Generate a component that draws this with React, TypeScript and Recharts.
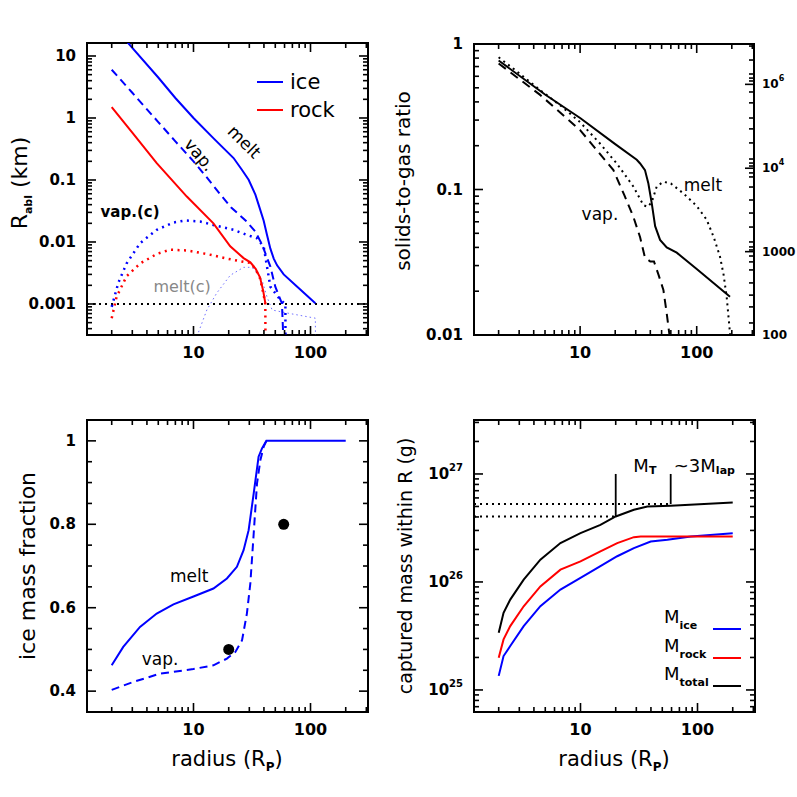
import React from 'react'
import {
  ComposedChart,
  Line,
  Scatter,
  XAxis,
  YAxis,
  ReferenceLine,
  ReferenceDot,
  ReferenceArea,
} from 'recharts'

type Pt = { x: number; y: number }

const SIZE = 797
const FONT = '"DejaVu Sans", Verdana, sans-serif'
const BLUE = '#0000ff'
const RED = '#ff0000'

// radius in planet radii, shared by all four panels
const radiusDomain = [1.23, 310]
const radiusMajor = [10, 100]

// (a) ablation radius in km
const ablDomain = [0.000316, 16.2]
const ablMajor = [0.001, 0.01, 0.1, 1, 10]
const ablFloor = 0.001
const iceMelt: Pt[] = [
  { x: 2, y: 33 }, { x: 3, y: 13.5 }, { x: 5, y: 4.5 }, { x: 7, y: 2.1 }, { x: 10, y: 1.0 },
  { x: 15, y: 0.46 }, { x: 22, y: 0.226 }, { x: 26, y: 0.145 }, { x: 29.6, y: 0.101 },
  { x: 33.8, y: 0.058 }, { x: 36, y: 0.04 }, { x: 39.8, y: 0.022 }, { x: 42.5, y: 0.013 },
  { x: 45.4, y: 0.0078 }, { x: 48.5, y: 0.0054 }, { x: 51.8, y: 0.0042 }, { x: 59, y: 0.003 },
  { x: 77, y: 0.0019 }, { x: 110, y: 0.00103 },
]
const iceVap: Pt[] = [
  { x: 2, y: 6.0 }, { x: 3, y: 2.55 }, { x: 5, y: 0.86 }, { x: 7, y: 0.42 }, { x: 10, y: 0.2 },
  { x: 13, y: 0.11 }, { x: 17, y: 0.058 }, { x: 21, y: 0.036 }, { x: 28, y: 0.022 },
  { x: 33.8, y: 0.0147 }, { x: 38.6, y: 0.009 }, { x: 45.4, y: 0.004 }, { x: 50, y: 0.0019 },
  { x: 57, y: 0.00102 }, { x: 58.5, y: 0.0003 },
]
const iceVapC: Pt[] = [
  { x: 2, y: 0.0009 }, { x: 2.28, y: 0.0022 }, { x: 2.68, y: 0.0045 }, { x: 3.5, y: 0.0096 },
  { x: 4.85, y: 0.0157 }, { x: 6.74, y: 0.0206 }, { x: 8.5, y: 0.0222 }, { x: 11.4, y: 0.0214 },
  { x: 15.8, y: 0.0182 }, { x: 22, y: 0.0157 }, { x: 28.6, y: 0.013 }, { x: 34.9, y: 0.0115 },
  { x: 39.8, y: 0.0084 }, { x: 42.5, y: 0.004 }, { x: 45.4, y: 0.0019 }, { x: 55.3, y: 0.00116 },
  { x: 61, y: 0.001 }, { x: 61.2, y: 0.0001 },
]
const iceMeltC: Pt[] = [
  { x: 10.7, y: 0.0003 }, { x: 13, y: 0.0008 }, { x: 15.8, y: 0.0015 }, { x: 20.6, y: 0.0029 },
  { x: 26.8, y: 0.0039 }, { x: 30.6, y: 0.0039 }, { x: 33, y: 0.0037 }, { x: 38.6, y: 0.0024 },
  { x: 42.5, y: 0.0013 }, { x: 47, y: 0.0008 }, { x: 67, y: 0.0007 }, { x: 110, y: 0.00059 },
  { x: 110.5, y: 0.0001 },
]
const rockMelt: Pt[] = [
  { x: 2, y: 1.5 }, { x: 3, y: 0.58 }, { x: 4.85, y: 0.187 }, { x: 8.77, y: 0.054 },
  { x: 14.8, y: 0.02 }, { x: 20.6, y: 0.0085 }, { x: 26.8, y: 0.0055 }, { x: 30.6, y: 0.0047 },
  { x: 34, y: 0.0037 }, { x: 37, y: 0.0027 }, { x: 39.5, y: 0.0016 }, { x: 41.1, y: 0.00103 },
]
const rockVapC: Pt[] = [
  { x: 2, y: 0.00059 }, { x: 2.2, y: 0.0013 }, { x: 2.68, y: 0.0028 }, { x: 3.5, y: 0.0045 },
  { x: 4.85, y: 0.0064 }, { x: 6.3, y: 0.0075 }, { x: 8.8, y: 0.0073 }, { x: 13, y: 0.0064 },
  { x: 19.3, y: 0.0054 }, { x: 25, y: 0.0049 }, { x: 28, y: 0.0047 }, { x: 30.6, y: 0.0046 },
  { x: 34, y: 0.0036 }, { x: 37, y: 0.0026 }, { x: 39.5, y: 0.0015 }, { x: 41.1, y: 0.001 },
  { x: 41.3, y: 0.0001 },
]

// (b) solids-to-gas ratio
const ratioDomain = [0.01, 1]
const ratioMajor = [0.01, 0.1, 1]
const ratioSolid: Pt[] = [
  { x: 2, y: 0.77 }, { x: 5, y: 0.45 }, { x: 10, y: 0.31 }, { x: 20, y: 0.205 }, { x: 30.6, y: 0.16 },
  { x: 32.7, y: 0.151 }, { x: 36, y: 0.136 }, { x: 38.5, y: 0.11 }, { x: 41.2, y: 0.08 },
  { x: 44, y: 0.056 }, { x: 48.5, y: 0.045 }, { x: 55.3, y: 0.04 }, { x: 67.4, y: 0.0368 },
  { x: 100, y: 0.0284 }, { x: 193, y: 0.0183 },
]
const ratioVap: Pt[] = [
  { x: 2, y: 0.735 }, { x: 4.54, y: 0.447 }, { x: 10, y: 0.256 }, { x: 19.3, y: 0.136 },
  { x: 24, y: 0.091 }, { x: 28.6, y: 0.065 }, { x: 32.7, y: 0.047 }, { x: 36, y: 0.034 },
  { x: 40, y: 0.032 }, { x: 43, y: 0.032 }, { x: 47, y: 0.026 }, { x: 51.8, y: 0.0204 },
  { x: 55.3, y: 0.0141 }, { x: 58.4, y: 0.01 }, { x: 59, y: 0.008 },
]
const ratioMelt: Pt[] = [
  { x: 2, y: 0.81 }, { x: 3, y: 0.63 }, { x: 4.54, y: 0.483 }, { x: 7, y: 0.37 }, { x: 10, y: 0.29 },
  { x: 14.8, y: 0.207 }, { x: 20.6, y: 0.151 }, { x: 28.6, y: 0.105 }, { x: 34.9, y: 0.078 },
  { x: 38, y: 0.076 }, { x: 41.2, y: 0.082 }, { x: 45.4, y: 0.105 }, { x: 51.8, y: 0.113 },
  { x: 60, y: 0.11 }, { x: 76.9, y: 0.094 }, { x: 100, y: 0.077 }, { x: 121.8, y: 0.062 },
  { x: 140, y: 0.047 }, { x: 158.5, y: 0.0345 }, { x: 170, y: 0.026 }, { x: 180.7, y: 0.0183 },
  { x: 193, y: 0.0103 }, { x: 197, y: 0.008 },
]
// right-hand scale of panel (b), placed on the ratio axis
const rightTicks = [
  0.968, 0.776, 0.622, 0.583, 0.557, 0.528, 0.468, 0.394, 0.31, 0.261, 0.209, 0.162, 0.152,
  0.145, 0.14, 0.13, 0.122, 0.104, 0.0847, 0.0689, 0.0552, 0.0436, 0.0403, 0.0384, 0.0374,
  0.0349, 0.0318, 0.028, 0.0228, 0.0188, 0.0156, 0.0121, 0.01,
]
const rightMajor = [0.01, 0.0374, 0.14, 0.528]
const rightLabels = [['100'], ['1000'], ['10', '4'], ['10', '6']]

// (c) ice mass fraction
const fracDomain = [0.35, 1.05]
const fracTicks = [0.4, 0.45, 0.5, 0.55, 0.6, 0.65, 0.7, 0.75, 0.8, 0.85, 0.9, 0.95, 1]
const fracMajor = [0.4, 0.6, 0.8, 1]
const fracMelt: Pt[] = [
  { x: 2, y: 0.462 }, { x: 2.51, y: 0.506 }, { x: 3.49, y: 0.554 }, { x: 4.85, y: 0.586 },
  { x: 6.74, y: 0.608 }, { x: 10, y: 0.627 }, { x: 14.8, y: 0.646 }, { x: 19.3, y: 0.67 },
  { x: 23.5, y: 0.698 }, { x: 26.8, y: 0.738 }, { x: 29.6, y: 0.786 }, { x: 32.7, y: 0.874 },
  { x: 36, y: 0.962 }, { x: 38.5, y: 0.982 }, { x: 42, y: 1.0 }, { x: 200, y: 1.0 },
]
const fracVap: Pt[] = [
  { x: 2, y: 0.403 }, { x: 3.06, y: 0.422 }, { x: 5.18, y: 0.442 }, { x: 10, y: 0.453 },
  { x: 14.8, y: 0.462 }, { x: 19.3, y: 0.478 }, { x: 22.8, y: 0.494 }, { x: 26, y: 0.522 },
  { x: 28.6, y: 0.586 }, { x: 30.6, y: 0.658 }, { x: 32.7, y: 0.778 }, { x: 34.9, y: 0.898 },
  { x: 37.3, y: 0.954 }, { x: 39.8, y: 0.986 }, { x: 42, y: 1.0 },
]
const fracObs: Pt[] = [{ x: 20, y: 0.5 }, { x: 59, y: 0.8 }]

// (d) captured mass within R, grams
const massDomain = [6.25e24, 3.16e27]
const massMajor = [1e25, 1e26, 1e27]
const massTotal: Pt[] = [
  { x: 2, y: 3.38e25 }, { x: 2.2, y: 5.18e25 }, { x: 2.51, y: 6.87e25 }, { x: 3.27, y: 1.05e26 },
  { x: 4.54, y: 1.61e26 }, { x: 6.74, y: 2.29e26 }, { x: 10, y: 2.83e26 }, { x: 14.8, y: 3.38e26 },
  { x: 20, y: 4.04e26 }, { x: 28.6, y: 4.66e26 }, { x: 37.3, y: 4.99e26 }, { x: 59, y: 5.07e26 },
  { x: 200, y: 5.43e26 },
]
const massRock: Pt[] = [
  { x: 2, y: 1.99e25 }, { x: 2.2, y: 2.94e25 }, { x: 2.51, y: 3.9e25 }, { x: 3.27, y: 5.96e25 },
  { x: 4.54, y: 9.1e25 }, { x: 6.74, y: 1.3e26 }, { x: 10, y: 1.55e26 }, { x: 14.8, y: 1.92e26 },
  { x: 20.6, y: 2.29e26 }, { x: 28.6, y: 2.6e26 }, { x: 32.7, y: 2.64e26 }, { x: 200, y: 2.64e26 },
]
const massIce: Pt[] = [
  { x: 2, y: 1.35e25 }, { x: 2.2, y: 2.06e25 }, { x: 2.51, y: 2.55e25 }, { x: 3.27, y: 3.9e25 },
  { x: 4.54, y: 5.96e25 }, { x: 6.74, y: 8.5e25 }, { x: 10, y: 1.09e26 }, { x: 14.8, y: 1.4e26 },
  { x: 20.6, y: 1.73e26 }, { x: 28.6, y: 2.06e26 }, { x: 39.8, y: 2.37e26 }, { x: 55.3, y: 2.46e26 },
  { x: 87.7, y: 2.64e26 }, { x: 200, y: 2.83e26 },
]
const markT: Pt = { x: 20, y: 4.03e26 }
const mark3Lap: Pt = { x: 59, y: 5.27e26 }
const markTop = 1e27

const logTicks = ([lo, hi]: number[]) => {
  const out: number[] = []
  for (let e = Math.floor(Math.log10(lo)); e <= Math.ceil(Math.log10(hi)); e++) {
    for (let m = 1; m < 10; m++) {
      const v = Number((m * Math.pow(10, e)).toPrecision(6))
      if (v >= lo && v <= hi) out.push(v)
    }
  }
  return out
}
const radiusTicks = logTicks(radiusDomain)
const ablTicks = logTicks(ablDomain)
const ratioTicks = logTicks(ratioDomain)
const massTicks = logTicks(massDomain)

const tickText = { fontFamily: FONT, fontWeight: 'bold' as const, fontSize: 15, fill: '#000' }

const power = (v: number) => {
  const e = Math.round(Math.log10(v))
  return (
    <>
      10<tspan dy={-7} fontSize={10}>{e}</tspan>
    </>
  )
}

// tick labels come from the axes
const xLabel = (p: any) => {
  const v = p.payload.value
  if (!radiusMajor.includes(v)) return <g />
  return (
    <text x={p.x} y={p.y + 23} textAnchor="middle" {...tickText} fontSize={16}>
      {v}
    </text>
  )
}

const yLabel = (p: any, major: number[], fmt?: (v: number) => React.ReactNode) => {
  const v = p.payload.value
  if (!major.includes(v)) return <g />
  return (
    <text x={p.x - 11} y={p.y} textAnchor="end" dominantBaseline="central" {...tickText}>
      {fmt ? fmt(v) : v}
    </text>
  )
}

const rLabel = (p: any) => {
  const i = rightMajor.indexOf(p.payload.value)
  if (i < 0) return <g />
  const lab = rightLabels[i]
  return (
    <text x={p.x + 8} y={p.y} dominantBaseline="central" {...tickText} fontSize={12}>
      {lab[0]}
      {lab[1] && <tspan dy={-6} fontSize={8}>{lab[1]}</tspan>}
    </text>
  )
}

// text pinned at a data position
const note = (txt: React.ReactNode, o: any = {}) => (p: any) => (
  <text
    x={p.cx}
    y={p.cy}
    textAnchor={o.anchor || 'middle'}
    dominantBaseline="central"
    transform={o.rotate ? `rotate(${o.rotate} ${p.cx} ${p.cy})` : undefined}
    fontFamily={FONT}
    fontSize={o.size || 16}
    fontWeight={o.weight || 'normal'}
    fill={o.color || '#000'}
  >
    {txt}
  </text>
)

type Box = { left: number; top: number; w: number; h: number }
// axes are 1px thick, so the plot box is the margin plus that pixel
const margins = (b: Box, rightAxis = false) => ({
  left: b.left - 1,
  top: b.top,
  right: SIZE - b.left - b.w - (rightAxis ? 1 : 0),
  bottom: SIZE - b.top - b.h - 1,
})

const radiusAxis = () => (
  <XAxis
    dataKey="x"
    type="number"
    scale="log"
    domain={radiusDomain}
    allowDataOverflow
    ticks={radiusTicks}
    interval={0}
    height={1}
    tickSize={0}
    tickMargin={0}
    axisLine={false}
    tickLine={false}
    tick={xLabel}
  />
)

const frame = (yDom: number[]) => (
  <ReferenceArea
    x1={radiusDomain[0]}
    x2={radiusDomain[1]}
    y1={yDom[0]}
    y2={yDom[1]}
    fill="none"
    stroke="#000"
    strokeWidth={2}
    ifOverflow="visible"
  />
)

const yProps = {
  dataKey: 'y',
  type: 'number' as const,
  allowDataOverflow: true,
  interval: 0 as const,
  width: 1,
  tickSize: 0,
  tickMargin: 0,
  axisLine: false,
  tickLine: false,
}

const boxA: Box = { left: 87, top: 43, w: 281, h: 292 }
const boxB: Box = { left: 474, top: 44, w: 280, h: 291 }
const boxC: Box = { left: 87, top: 420, w: 281, h: 292 }
const boxD: Box = { left: 474, top: 420, w: 281, h: 292 }

const layer: React.CSSProperties = { position: 'absolute', left: 0, top: 0 }

const PanelA = () => (
  <div style={layer}>
    <ComposedChart width={SIZE} height={SIZE} margin={margins(boxA)}>
      {radiusAxis()}
      <YAxis {...yProps} scale="log" domain={ablDomain} ticks={ablTicks}
        tick={(p: any) => yLabel(p, ablMajor)} />
      <ReferenceLine y={ablFloor} stroke="#000" strokeWidth={2} strokeDasharray="2 4" />
      <Line data={iceMeltC} dataKey="y" stroke="#7070ff" strokeWidth={1} strokeDasharray="1.5 3" dot={false} isAnimationActive={false} />
      <Line data={rockVapC} dataKey="y" stroke={RED} strokeWidth={2.5} strokeDasharray="2 4.5" dot={false} isAnimationActive={false} />
      <Line data={iceVapC} dataKey="y" stroke={BLUE} strokeWidth={2.5} strokeDasharray="2 4.5" dot={false} isAnimationActive={false} />
      <Line data={rockMelt} dataKey="y" stroke={RED} strokeWidth={2} dot={false} isAnimationActive={false} />
      <Line data={iceVap} dataKey="y" stroke={BLUE} strokeWidth={2} strokeDasharray="8 5" dot={false} isAnimationActive={false} />
      <Line data={iceMelt} dataKey="y" stroke={BLUE} strokeWidth={2} dot={false} isAnimationActive={false} />
      <ReferenceDot x={27.2} y={0.414} r={0} shape={note('melt', { rotate: 45, size: 17 })} />
      <ReferenceDot x={11.3} y={0.255} r={0} shape={note('vap.', { rotate: 50, size: 17 })} />
      <ReferenceDot x={2.87} y={0.0304} r={0} shape={note('vap.(c)', { size: 15, weight: 'bold' })} />
      <ReferenceDot x={8.0} y={0.0019} r={0} shape={note('melt(c)', { size: 16, color: '#888' })} />
      {frame(ablDomain)}
    </ComposedChart>
  </div>
)

const PanelB = () => (
  <div style={layer}>
    <ComposedChart width={SIZE} height={SIZE} margin={margins(boxB, true)}>
      {radiusAxis()}
      <YAxis {...yProps} scale="log" domain={ratioDomain} ticks={ratioTicks}
        tick={(p: any) => yLabel(p, ratioMajor)} />
      <YAxis {...yProps} yAxisId="r" orientation="right" scale="log" domain={ratioDomain}
        ticks={rightTicks} tick={rLabel} />
      <Line data={ratioMelt} dataKey="y" stroke="#000" strokeWidth={2} strokeDasharray="2 4" dot={false} isAnimationActive={false} />
      <Line data={ratioVap} dataKey="y" stroke="#000" strokeWidth={2} strokeDasharray="9 6" dot={false} isAnimationActive={false} />
      <Line data={ratioSolid} dataKey="y" stroke="#000" strokeWidth={2} dot={false} isAnimationActive={false} />
      <ReferenceDot x={113} y={0.107} r={0} shape={note('melt', { size: 17 })} />
      <ReferenceDot x={14.8} y={0.068} r={0} shape={note('vap.', { size: 17 })} />
      {frame(ratioDomain)}
    </ComposedChart>
  </div>
)

const PanelC = () => (
  <div style={layer}>
    <ComposedChart width={SIZE} height={SIZE} margin={margins(boxC)}>
      {radiusAxis()}
      <YAxis {...yProps} scale="linear" domain={fracDomain} ticks={fracTicks}
        tick={(p: any) => yLabel(p, fracMajor)} />
      <Line data={fracVap} dataKey="y" stroke={BLUE} strokeWidth={2} strokeDasharray="8 5" dot={false} isAnimationActive={false} />
      <Line data={fracMelt} dataKey="y" stroke={BLUE} strokeWidth={2} dot={false} isAnimationActive={false} />
      <Scatter data={fracObs} dataKey="y" isAnimationActive={false}
        shape={(p: any) => <circle cx={p.cx} cy={p.cy} r={5.5} fill="#000" />} />
      <ReferenceDot x={9.2} y={0.675} r={0} shape={note('melt', { size: 17 })} />
      <ReferenceDot x={5.19} y={0.478} r={0} shape={note('vap.', { size: 17 })} />
      {frame(fracDomain)}
    </ComposedChart>
  </div>
)

const sub = (s: string, dy = 5) => (
  <tspan dy={dy} fontSize={11} fontWeight="bold">{s}</tspan>
)

const PanelD = () => (
  <div style={layer}>
    <ComposedChart width={SIZE} height={SIZE} margin={margins(boxD)}>
      {radiusAxis()}
      <YAxis {...yProps} scale="log" domain={massDomain} ticks={massTicks}
        tick={(p: any) => yLabel(p, massMajor, power)} />
      <ReferenceLine segment={[{ x: radiusDomain[0], y: mark3Lap.y }, { x: mark3Lap.x, y: mark3Lap.y }]}
        stroke="#000" strokeWidth={2} strokeDasharray="2 4" />
      <ReferenceLine segment={[{ x: radiusDomain[0], y: markT.y }, { x: markT.x, y: markT.y }]}
        stroke="#000" strokeWidth={2} strokeDasharray="2 4" />
      <ReferenceLine segment={[{ x: markT.x, y: markT.y }, { x: markT.x, y: markTop }]} stroke="#000" strokeWidth={1.8} />
      <ReferenceLine segment={[{ x: mark3Lap.x, y: mark3Lap.y }, { x: mark3Lap.x, y: markTop }]} stroke="#000" strokeWidth={1.8} />
      <Line data={massIce} dataKey="y" stroke={BLUE} strokeWidth={2} dot={false} isAnimationActive={false} />
      <Line data={massRock} dataKey="y" stroke={RED} strokeWidth={2} dot={false} isAnimationActive={false} />
      <Line data={massTotal} dataKey="y" stroke="#000" strokeWidth={2} dot={false} isAnimationActive={false} />
      <ReferenceDot x={28.3} y={1.2e27} r={0}
        shape={note(<>M{sub('T')}</>, { anchor: 'start', size: 18 })} />
      <ReferenceDot x={62.7} y={1.2e27} r={0}
        shape={note(<>~3M{sub('lap')}</>, { anchor: 'start', size: 18 })} />
      {frame(massDomain)}
    </ComposedChart>
  </div>
)

// fraction of the way along an axis domain
const along = (dom: number[], log: boolean, v: number) =>
  log ? Math.log10(v / dom[0]) / Math.log10(dom[1] / dom[0]) : (v - dom[0]) / (dom[1] - dom[0])

// inward IDL-style tick marks on the four edges of a plot box
const FrameTicks = ({ b, yDom, yLog, yT, yM, rT, rM }: any) => {
  const bottom = b.top + b.h
  const right = b.left + b.w
  return (
    <g stroke="#000" strokeWidth={1.6}>
      {radiusTicks.map((v) => {
        const x = b.left + along(radiusDomain, true, v) * b.w
        const len = radiusMajor.includes(v) ? 9 : 5
        return (
          <g key={`x${v}`}>
            <line x1={x} y1={bottom} x2={x} y2={bottom - len} />
            <line x1={x} y1={b.top} x2={x} y2={b.top + len} />
          </g>
        )
      })}
      {yT.map((w: number) => {
        const y = bottom - along(yDom, yLog, w) * b.h
        const len = yM.includes(w) ? 9 : 5
        return <line key={`l${w}`} x1={b.left} y1={y} x2={b.left + len} y2={y} />
      })}
      {rT.map((w: number) => {
        const y = bottom - along(yDom, yLog, w) * b.h
        const len = rM.includes(w) ? 9 : 5
        return <line key={`r${w}`} x1={right} y1={y} x2={right - len} y2={y} />
      })}
    </g>
  )
}

const titleStyle = { fontFamily: FONT, fill: '#000' }

const Overlay = () => (
  <svg width={SIZE} height={SIZE} style={{ ...layer, pointerEvents: 'none' }}>
    <FrameTicks b={boxA} yDom={ablDomain} yLog yT={ablTicks} yM={ablMajor} rT={ablTicks} rM={ablMajor} />
    <FrameTicks b={boxB} yDom={ratioDomain} yLog yT={ratioTicks} yM={ratioMajor} rT={rightTicks} rM={rightMajor} />
    <FrameTicks b={boxC} yDom={fracDomain} yLog={false} yT={fracTicks} yM={fracMajor} rT={fracTicks} rM={fracMajor} />
    <FrameTicks b={boxD} yDom={massDomain} yLog yT={massTicks} yM={massMajor} rT={massTicks} rM={massMajor} />

    {/* axis titles */}
    <text transform="translate(27,183) rotate(-90)" textAnchor="middle" fontSize={22} {...titleStyle}>
      R<tspan dy={5} fontSize={11} fontWeight="bold">abl</tspan>
      <tspan dy={-5}> (km)</tspan>
    </text>
    <text transform="translate(410,181) rotate(-90)" textAnchor="middle" fontSize={20} {...titleStyle}>
      solids-to-gas ratio
    </text>
    <text transform="translate(35,566) rotate(-90)" textAnchor="middle" fontSize={22} {...titleStyle}>
      ice mass fraction
    </text>
    <text transform="translate(412,566) rotate(-90)" textAnchor="middle" fontSize={19} {...titleStyle}>
      captured mass within R (g)
    </text>
    {[227, 614].map((cx) => (
      <text key={cx} x={cx} y={766} textAnchor="middle" fontSize={21} {...titleStyle}>
        radius (R<tspan dy={5} fontSize={12} fontWeight="bold">P</tspan>
        <tspan dy={-5}>)</tspan>
      </text>
    ))}

    {/* panel (a) legend */}
    <line x1={257} y1={82} x2={283} y2={82} stroke={BLUE} strokeWidth={2} />
    <text x={290} y={89} fontSize={21} {...titleStyle}>ice</text>
    <line x1={257} y1={110} x2={283} y2={110} stroke={RED} strokeWidth={2} />
    <text x={290} y={117} fontSize={21} {...titleStyle}>rock</text>

    {/* panel (d) legend */}
    {[
      { name: 'ice', color: BLUE, y: 623 },
      { name: 'rock', color: RED, y: 652 },
      { name: 'total', color: '#000', y: 680 },
    ].map((r) => (
      <g key={r.name}>
        <text x={664} y={r.y} fontSize={18} {...titleStyle}>
          M<tspan dy={6} fontSize={11} fontWeight="bold">{r.name}</tspan>
        </text>
        <line x1={713} y1={r.y + 6} x2={741} y2={r.y + 6} stroke={r.color} strokeWidth={2} />
      </g>
    ))}
  </svg>
)

export default function App() {
  return (
    <div style={{ position: 'absolute', left: 0, top: 0, width: SIZE, height: SIZE, background: '#fff' }}>
      <PanelA />
      <PanelB />
      <PanelC />
      <PanelD />
      <Overlay />
    </div>
  )
}
